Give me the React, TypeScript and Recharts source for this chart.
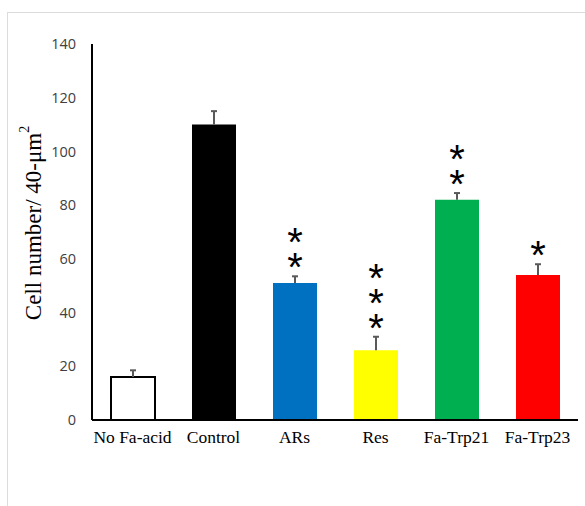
import { Bar, BarChart, Cell, LabelList, XAxis, YAxis } from "recharts";

const groups = ["No Fa-acid", "Control", "ARs", "Res", "Fa-Trp21", "Fa-Trp23"];
const cellCounts = [16, 110, 51, 26, 82, 54];
const sem = [2.5, 5, 2.5, 5, 2.5, 4];
const stars = ["", "", "**", "***", "**", "*"];
const fills = ["#ffffff", "#000000", "#0070c0", "#ffff00", "#00b050", "#ff0000"];
const yTicks = [0, 20, 40, 60, 80, 100, 120, 140];

const data = groups.map((g, i) => ({ name: g, count: cellCounts[i] }));

const STAR_FS = 40;
const STAR_STEP = 25;

// upper error whisker + asterisks stacked vertically above it
function BarExtras(props: any) {
  const { x, y, width, height, value, index } = props;
  const pxPerUnit = height / value;
  const errTop = y - sem[index] * pxPerUnit;
  const cx = x + width / 2;
  const s = stars[index];
  const n = s.length;
  return (
    <g>
      <line x1={cx} x2={cx} y1={y} y2={errTop} stroke="#595959" strokeWidth={2} />
      <line x1={cx - 3} x2={cx + 3} y1={errTop} y2={errTop} stroke="#595959" strokeWidth={2} />
      {n > 0 && (
        <text
          x={cx}
          y={errTop - 14 - (n - 1) * STAR_STEP - 17}
          fontFamily="Liberation Sans, Arial, sans-serif"
          fontSize={STAR_FS}
          fill="#000"
          style={{
            writingMode: "vertical-rl",
            textOrientation: "upright",
            letterSpacing: STAR_STEP - STAR_FS - 4,
          }}
        >
          {s}
        </text>
      )}
    </g>
  );
}

export default function App() {
  return (
    <div
      style={{
        position: "absolute",
        left: 0,
        top: 0,
        width: 585,
        height: 506,
        background: "#fff",
      }}
    >
      <div
        style={{
          position: "absolute",
          left: 7,
          top: 12,
          right: 0,
          bottom: 0,
          borderLeft: "1px solid #dcdcdc",
          borderTop: "1px solid #dcdcdc",
        }}
      />
      <BarChart
        width={585}
        height={506}
        data={data}
        margin={{ top: 44, right: 7, bottom: 56, left: 0 }}
        barSize={44}
        style={{ position: "absolute", left: 0, top: 0 }}
      >
        <XAxis
          dataKey="name"
          axisLine={{ stroke: "#000", strokeWidth: 2 }}
          tickLine={false}
          tickMargin={5}
          interval={0}
          tick={{ fill: "#000", fontSize: 17.5, fontFamily: "Liberation Serif, Times New Roman, serif" }}
        />
        <YAxis
          width={92}
          domain={[0, 140]}
          ticks={yTicks}
          axisLine={{ stroke: "#000", strokeWidth: 2 }}
          tickLine={false}
          tickMargin={10}
          tick={{ fill: "#404040", fontSize: 14.5, fontFamily: "Open Sans, Arial, sans-serif" }}
          label={{
            content: () => (
              <text
                x={33}
                y={223}
                transform="rotate(-90 33 223)"
                textAnchor="middle"
                dominantBaseline="central"
                fontFamily="Liberation Serif, Times New Roman, serif"
                fontSize={23}
                fill="#000"
              >
                Cell number/ 40-μm
                <tspan fontSize={14} dy={-9}>
                  2
                </tspan>
              </text>
            ),
          }}
        />
        <Bar dataKey="count" isAnimationActive={false}>
          {data.map((d, i) => (
            <Cell
              key={d.name}
              fill={fills[i]}
              stroke={i === 0 ? "#000" : "none"}
              strokeWidth={i === 0 ? 2 : 0}
            />
          ))}
          <LabelList dataKey="count" content={<BarExtras />} />
        </Bar>
      </BarChart>
    </div>
  );
}
